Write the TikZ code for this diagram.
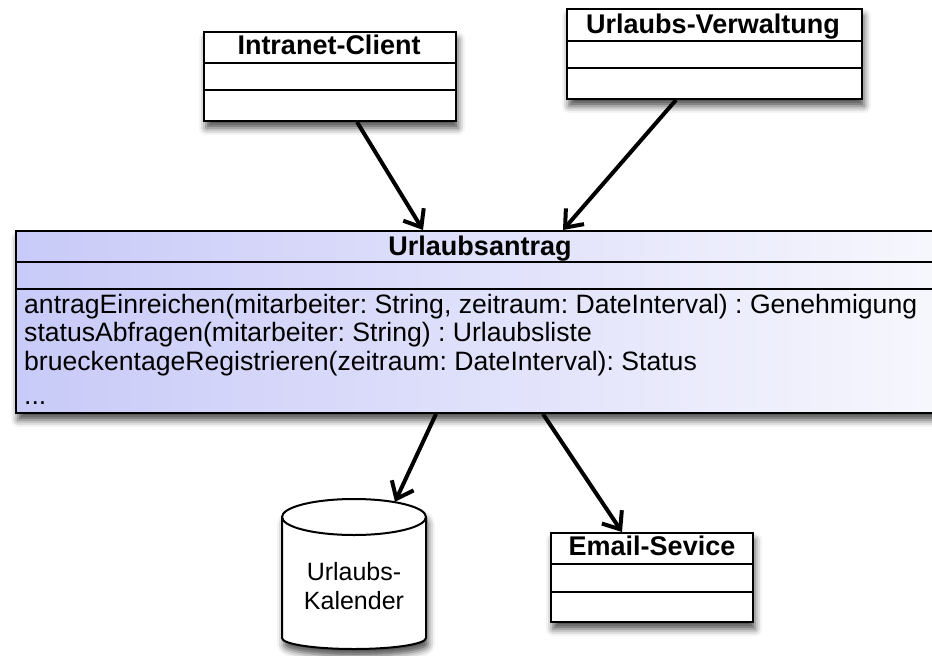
\documentclass[tikz,border=0pt]{standalone}
\usepackage{fontspec}
\setmainfont{Liberation Sans}
\usetikzlibrary{arrows.meta,shadows.blur}
\frenchspacing

\definecolor{uaLeft}{RGB}{200,202,248}
\definecolor{uaRight}{RGB}{247,247,253}

\tikzset{
  softshadow/.style={blur shadow={shadow xshift=2pt, shadow yshift=-7pt,
      shadow blur radius=7pt, shadow opacity=70}},
  classbox/.style={draw=black, line width=2pt, fill=white, inner sep=0pt,
      softshadow},
  ctitle/.style={anchor=base, inner sep=0pt,
      font=\fontsize{27}{29}\selectfont\bfseries},
  cbody/.style={anchor=base west, inner sep=0pt,
      font=\fontsize{26.6}{28}\selectfont},
  kaltext/.style={anchor=base, inner sep=0pt,
      font=\fontsize{25}{28}\selectfont},
  divider/.style={line width=2pt},
  dep/.style={line width=4pt, -{Straight Barb[length=15pt,width=24pt]}},
}

\begin{document}
\begin{tikzpicture}[x=1pt,y=-1pt]
  \useasboundingbox (0,0) rectangle (932,656);

  % --- Intranet-Client ---
  \node[classbox, minimum width=252pt, minimum height=89pt] (ic) at (330,76.5) {};
  \node[ctitle] (icT) at (329,54) {Intranet-Client};
  \draw[divider] (204,63) -- (456,63);
  \draw[divider] (204,90) -- (456,90);

  % --- Urlaubs-Verwaltung ---
  \node[classbox, minimum width=295pt, minimum height=90pt] (uv) at (714.5,54) {};
  \node[ctitle] (uvT) at (713,33) {Urlaubs-Verwaltung};
  \draw[divider] (567,41) -- (862,41);
  \draw[divider] (567,68) -- (862,68);

  % --- Urlaubsantrag ---
  \node[classbox, left color=uaLeft, right color=uaRight,
        minimum width=928pt, minimum height=182pt] (ua) at (480,322) {};
  \node[ctitle] (uaT) at (480,255) {Urlaubsantrag};
  \draw[divider] (16,262) -- (944,262);
  \draw[divider] (16,289) -- (944,289);
  \node[cbody] (m1) at (24,313) {antragEinreichen(mitarbeiter: String, zeitraum: DateInterval) : Genehmigung};
  \node[cbody] (m2) at (24,341) {statusAbfragen(mitarbeiter: String) : Urlaubsliste};
  \node[cbody] (m3) at (24,370) {brueckentageRegistrieren(zeitraum: DateInterval): Status};
  \node[cbody] (m4) at (24,404) {...};

  % --- Email-Sevice ---
  \node[classbox, minimum width=202pt, minimum height=89pt] (em) at (652,577.5) {};
  \node[ctitle] (emT) at (652,555) {Email-Sevice};
  \draw[divider] (551,564) -- (753,564);
  \draw[divider] (551,592) -- (753,592);

  % --- Urlaubs-Kalender (data store) ---
  \path[draw=black, line width=2pt, fill=white, softshadow]
    (282,517) -- (282,638) arc[start angle=180, end angle=0, x radius=72, y radius=11]
    -- (426,517) arc[start angle=0, end angle=-180, x radius=72, y radius=18] -- cycle;
  \draw[line width=2pt] (282,517) arc[start angle=180, end angle=0, x radius=72, y radius=18];
  \node[inner sep=0pt, minimum width=144pt, minimum height=139pt] (kal) at (354,568.5) {};
  \node[kaltext] (kal1) at (354,580) {Urlaubs-};
  \node[kaltext] (kal2) at (354,609) {Kalender};

  % --- dependencies ---
  \draw[dep] ([xshift=27pt]ic.south) -- ([xshift=-57pt]ua.north);
  \draw[dep] ([xshift=-38.5pt]uv.south) -- ([xshift=83pt]ua.north);
  \draw[dep] ([xshift=-44pt]ua.south) -- ([xshift=41pt,yshift=-3pt]kal.north);
  \draw[dep] ([xshift=63pt]ua.south) -- ([xshift=-30pt]em.north);
\end{tikzpicture}
\end{document}
